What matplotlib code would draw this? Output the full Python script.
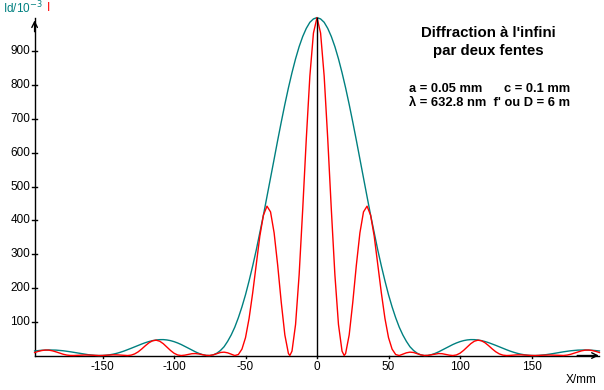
import matplotlib
matplotlib.use("Agg")
import matplotlib.pyplot as plt

plt.rcParams['font.family'] = ['Liberation Sans', 'DejaVu Sans']

# positions along the screen (mm)
x_mm = [-197.5, -195, -192.5, -190, -187.5, -185, -182.5, -180, -177.5, -175,
        -172.5, -170, -167.5, -165, -162.5, -160, -157.5, -155, -152.5, -150,
        -147.5, -145, -142.5, -140, -137.5, -135, -132.5, -130, -127.5, -125,
        -122.5, -120, -117.5, -115, -112.5, -110, -107.5, -105, -102.5, -100,
        -97.5, -95, -92.5, -90, -87.5, -85, -82.5, -80, -77.5, -75,
        -72.5, -70, -67.5, -65, -62.5, -60, -57.5, -55, -52.5, -50,
        -47.5, -45, -42.5, -40, -37.5, -35, -32.5, -30, -27.5, -25,
        -22.5, -20, -19, -17.5, -15, -12.5, -10, -7.5, -5, -2.5,
        0,
        2.5, 5, 7.5, 10, 12.5, 15, 17.5, 19, 20, 22.5,
        25, 27.5, 30, 32.5, 35, 37.5, 40, 42.5, 45, 47.5,
        50, 52.5, 55, 57.5, 60, 62.5, 65, 67.5, 70, 72.5,
        75, 77.5, 80, 82.5, 85, 87.5, 90, 92.5, 95, 97.5,
        100, 102.5, 105, 107.5, 110, 112.5, 115, 117.5, 120, 122.5,
        125, 127.5, 130, 132.5, 135, 137.5, 140, 142.5, 145, 147.5,
        150, 152.5, 155, 157.5, 160, 162.5, 165, 167.5, 170, 172.5,
        175, 177.5, 180, 182.5, 185, 187.5, 190, 192.5, 195, 197.5]

# diffraction envelope (teal), Id/10^-3
id_env = [13.5, 14.7, 15.6, 16.2, 16.5, 16.4, 16.0, 15.2, 14.1, 12.7,
          11.1, 9.4, 7.6, 5.7, 4.0, 2.5, 1.3, 0.4, 0, 0.2,
          0.9, 2.2, 4.1, 6.6, 9.7, 13.2, 17.2, 21.4, 25.7, 30.1,
          34.2, 38.1, 41.4, 44.1, 46.0, 47.0, 47.1, 46.1, 44.1, 41.1,
          37.2, 32.6, 27.3, 21.8, 16.2, 10.8, 6.2, 2.6, 0.4, 0,
          2, 7, 15, 26, 42, 61, 84, 112, 144, 180,
          221, 265, 312, 363, 415, 470, 525, 581, 637, 691,
          743, 792, 810, 837, 878, 914, 944, 968, 986, 996,
          1000,
          996, 986, 968, 944, 914, 878, 837, 810, 792, 743,
          691, 637, 581, 525, 470, 415, 363, 312, 265, 221,
          180, 144, 112, 84, 61, 42, 26, 15, 7, 2,
          0, 0.4, 2.6, 6.2, 10.8, 16.2, 21.8, 27.3, 32.6, 37.2,
          41.1, 44.1, 46.1, 47.1, 47.0, 46.0, 44.1, 41.4, 38.1, 34.2,
          30.1, 25.7, 21.4, 17.2, 13.2, 9.7, 6.6, 4.1, 2.2, 0.9,
          0.2, 0, 0.4, 1.3, 2.5, 4.0, 5.7, 7.6, 9.4, 11.1,
          12.7, 14.1, 15.2, 16.0, 16.4, 16.5, 16.2, 15.6, 14.7, 13.5]

# two-slit intensity (red), I
i_two = [8.8, 12.2, 14.8, 16.2, 15.9, 13.9, 10.8, 7.2, 3.8, 1.4,
         0.2, 0.1, 0.6, 1.2, 1.6, 1.5, 1.0, 0.4, 0, 0.2,
         0.8, 1.6, 2.1, 2.0, 1.3, 0.4, 0, 1.2, 4.8, 11.1,
         19.7, 29.2, 37.8, 43.7, 45.4, 42.3, 35.0, 25.3, 15.2, 6.8,
         1.7, 0, 1.1, 3.4, 5.4, 5.8, 4.5, 2.3, 0.4, 0.2,
         2.1, 5.5, 9, 10, 8, 4, 0, 3, 19, 53,
         110, 185, 270, 353, 415, 442, 425, 363, 267, 157,
         61, 6, 0, 13, 92, 239, 433, 641, 827, 954,
         1000,
         954, 827, 641, 433, 239, 92, 13, 0, 6, 61,
         157, 267, 363, 425, 442, 415, 353, 270, 185, 110,
         53, 19, 3, 0, 4, 8, 10, 9, 5.5, 2.1,
         0.2, 0.4, 2.3, 4.5, 5.8, 5.4, 3.4, 1.1, 0, 1.7,
         6.8, 15.2, 25.3, 35.0, 42.3, 45.4, 43.7, 37.8, 29.2, 19.7,
         11.1, 4.8, 1.2, 0, 0.4, 1.3, 2.0, 2.1, 1.6, 0.8,
         0.2, 0, 0.4, 1.0, 1.5, 1.6, 1.2, 0.6, 0.1, 0.2,
         1.4, 3.8, 7.2, 10.8, 13.9, 15.9, 16.2, 14.8, 12.2, 8.8]

y_ticks = [100, 200, 300, 400, 500, 600, 700, 800, 900]
x_ticks = [-150, -100, -50, 0, 50, 100, 150]

teal = '#008080'
red = '#ff0000'

fig = plt.figure(figsize=(6.04, 3.9), dpi=100)
ax = fig.add_axes([0, 0, 1, 1])
ax.set_xlim(-221.7, 200.7)
ax.set_ylim(-102, 1052)
ax.axis('off')

x0 = x_mm[0]

# axes with arrows
ax.plot([x0, 197], [0, 0], color='black', lw=1)
ax.plot([x0, x0], [0, 998], color='black', lw=1)
ax.annotate('', xy=(x0, 1000), xytext=(x0, 950),
            arrowprops=dict(arrowstyle='->', color='black', lw=1))
ax.annotate('', xy=(199, 0), xytext=(180, 0),
            arrowprops=dict(arrowstyle='->', color='black', lw=1))

for t in y_ticks:
    ax.plot([x0 - 1.5, x0 + 1.5], [t, t], color='black', lw=1)
    ax.text(x0 - 3, t, str(t), ha='right', va='center', fontsize=8.5)
for t in x_ticks:
    ax.plot([t, t], [0, -7], color='black', lw=1)
    ax.text(t, -34, str(t), ha='center', va='center', fontsize=8.5)

ax.plot(x_mm, id_env, color=teal, lw=1)
ax.plot(x_mm, i_two, color=red, lw=1)
ax.plot([0, 0], [0, 1000], color='black', lw=1)

fig.text(3 / 604, 1 - 8 / 390, 'Id/10$^{-3}$', color=teal, fontsize=8.5,
         ha='left', va='center')
fig.text(47 / 604, 1 - 8 / 390, 'I', color=red, fontsize=8.5,
         ha='left', va='center')
fig.text(597 / 604, 1 - 380 / 390, 'X/mm', fontsize=8.5, ha='right', va='center')

fig.text(488 / 604, 1 - 33 / 390, "Diffraction à l'infini", fontsize=10.8,
         fontweight='bold', ha='center', va='center')
fig.text(488 / 604, 1 - 51 / 390, 'par deux fentes', fontsize=10.8,
         fontweight='bold', ha='center', va='center')
fig.text(409 / 604, 1 - 89 / 390, 'a = 0.05 mm      c = 0.1 mm', fontsize=9.3,
         fontweight='bold', ha='left', va='center')
fig.text(409 / 604, 1 - 103 / 390, 'λ = 632.8 nm  f\' ou D = 6 m', fontsize=9.3,
         fontweight='bold', ha='left', va='center')

fig.savefig('out.png', dpi=100)
